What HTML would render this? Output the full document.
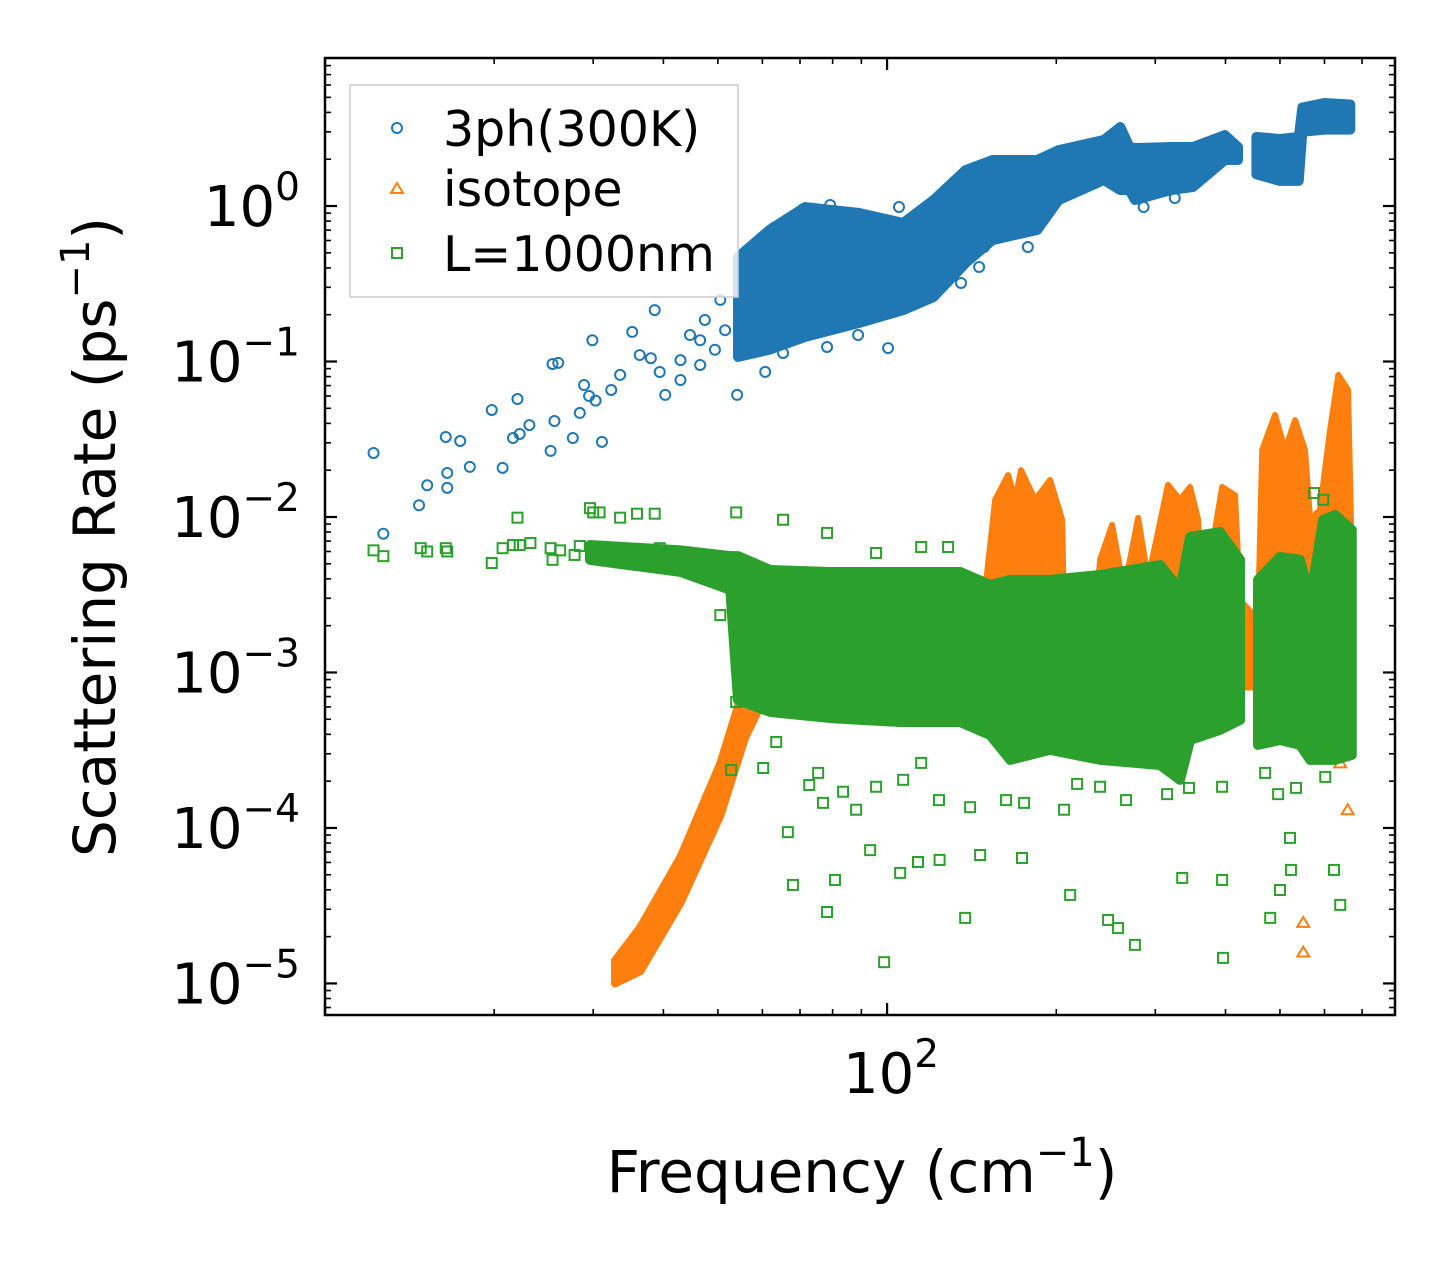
<!DOCTYPE html>
<html><head><meta charset="utf-8"><style>
html,body{margin:0;padding:0;background:#fff;}
svg{display:block;font-family:"DejaVu Sans","Liberation Sans",sans-serif;}
</style></head><body>
<svg id="chart" xmlns="http://www.w3.org/2000/svg" width="1455" height="1265" viewBox="0 0 1455 1265">
<rect x="0" y="0" width="1455" height="1265" fill="#fff"/>
<g id="plot"></g>
<g id="axes"></g>
<g id="legend">
 <rect x="350" y="85" width="388" height="212" fill="#fff" fill-opacity="0.8" stroke="#ccc" stroke-width="1.5"/>
 <circle cx="397" cy="128" r="5" fill="none" stroke="#1f77b4" stroke-width="2"/>
 <text x="443" y="146" font-size="49" fill="#000">3ph(300K)</text>
 <path d="M397,183 L403,193 L391,193 Z" fill="none" stroke="#ff7f0e" stroke-width="2"/>
 <text x="443" y="206" font-size="49" fill="#000">isotope</text>
 <rect x="392" y="248" width="10" height="10" fill="none" stroke="#2ca02c" stroke-width="2"/>
 <text x="443" y="271" font-size="49" fill="#000">L=1000nm</text>
</g>
</svg>
<script>
// ---- data ----
const blueFreq = [12.2,12.7,14.7,15.2,16.4,16.5,16.5,17.4,18.1,19.8,20.7,22.0,21.6,22.2,23.1,25.2,25.4,26.0,25.6,27.6,28.4,28.9,29.5,29.9,30.3,31.1,32.3,35.2,33.5,36.3,38.0,38.6,40.3,42.9,46.5,54.1,50.5,60.7,65.3,78.2,100.4,88.8,148.8,145.8,135.4,178,286,325,128.4,79.2,70.9,105,62.9,44.6,47.4,49.4,51.5,46.5,55.9,42.9,39.4];
const blueRate = [0.0258,0.0078,0.0119,0.016,0.0327,0.0192,0.0154,0.0308,0.021,0.0488,0.0207,0.0574,0.0322,0.0342,0.039,0.0266,0.0964,0.098,0.0414,0.0322,0.0467,0.0706,0.06,0.137,0.056,0.0304,0.0656,0.155,0.082,0.110,0.105,0.214,0.061,0.076,0.137,0.061,0.249,0.0857,0.1135,0.124,0.122,0.148,0.545,0.405,0.32,0.545,0.985,1.126,1.212,1.015,0.955,0.985,0.722,0.148,0.185,0.119,0.159,0.095,0.214,0.102,0.0856];
const blueBandFreq = [54.3,61.7,71.5,89.2,106.8,121,138,154,185,202,243,260,270,276,320,350,399,421,null,454,500,540,548,600,667];
const blueBandHi = [0.47,0.70,0.985,0.902,0.778,1.093,1.704,1.976,1.976,2.29,2.657,3.22,2.395,2.36,2.395,2.395,2.86,2.395,null,2.78,2.7,2.78,4.3,4.6,4.5];
const blueBandLo = [0.107,0.119,0.144,0.177,0.214,0.26,0.43,0.604,0.701,1.093,1.47,1.267,1.267,1.093,1.267,1.325,1.976,1.976,null,1.6,1.45,1.45,3.0,3.1,3.1];

const isoRiseFreq = [32.8,36.4,42.9,50.5,55.9,59.4];
const isoRiseHi = [1.4e-5,2.3e-5,6.5e-5,2.6e-4,8.5e-4,1.4e-3];
const isoRiseLo = [1.0e-5,1.2e-5,3.3e-5,1.2e-4,3.8e-4,6e-4];
const isoRidgeFreq = [59.4,134.9,148.8,155.7,164.2,169,173.1,183.4,195,204.9,206.5,234.5,239.3,251.4,260,266.2,279.7,291.4,296.2,316,332,346,357.6,360.6,375.6,394.5,416,424.6,457,464.9,490,510.5,532,554,565.8,589,614,635,661,671];
const isoRidgeRate = [9.0e-4,1.40e-3,2.92e-3,0.0129,0.0186,0.0129,0.020,0.0129,0.0173,9.6e-3,2.18e-3,2.18e-3,5.3e-3,8.9e-3,4.56e-3,3.94e-3,9.86e-3,3.94e-3,5.3e-3,0.0161,0.0129,0.0156,9.6e-3,5.3e-3,5.3e-3,0.0156,0.0138,2.92e-3,2.18e-3,0.027,0.0453,0.027,0.042,0.027,9.6e-3,0.0111,0.0363,0.0819,0.0656,5.3e-3];
const isoFloor = 8.0e-4;
const isoFreq = [550,550,640,600,660];
const isoRate = [2.45e-5,1.58e-5,2.6e-4,3.5e-4,1.3e-4];

const bndFreq = [12.2,12.7,14.8,15.2,16.4,16.5,19.8,20.7,21.6,22.0,22.2,23.2,25.2,25.4,26.2,27.8,28.4,29.6,30.0,30.8,32.2,33.5,35.9,36.3,38.6,39.4,50.5,54.7,53.9,52.8,60.2,63.5,72.7,76.9,88.1,83.5,75.4,95.6,106.8,115,123.7,140.5,162.8,175.3,206.5,217.8,239.3,266.2,314.9,344.4,394.5,470.6,496.3,534,602,558.8,53.9,65.3,78.2,95.6,115,128.4,281.8,575,597,66.6,68.0,78.2,80.8,98.8,105.5,113.5,137.7,173.8,211.7,247.3,257.6,276,335,394.5,396,480.4,500,523,521,624,640,146.4,124,93.3];
const bndRate = [6.1e-3,5.6e-3,6.3e-3,6.0e-3,6.3e-3,6.0e-3,5.06e-3,6.3e-3,6.6e-3,9.9e-3,6.6e-3,6.8e-3,6.3e-3,5.3e-3,6.1e-3,5.7e-3,6.5e-3,0.0114,0.0107,0.0107,6.1e-3,9.9e-3,0.0105,6.1e-3,0.0105,6.3e-3,2.34e-3,7.7e-4,6.46e-4,2.36e-4,2.43e-4,3.57e-4,1.89e-4,1.45e-4,1.31e-4,1.71e-4,2.26e-4,1.84e-4,2.04e-4,2.62e-4,1.51e-4,1.36e-4,1.51e-4,1.45e-4,1.31e-4,1.92e-4,1.84e-4,1.51e-4,1.65e-4,1.81e-4,1.84e-4,2.26e-4,1.65e-4,1.81e-4,2.13e-4,3.52e-4,0.0107,9.6e-3,7.9e-3,5.87e-3,6.41e-3,6.41e-3,4.11e-3,0.01426,0.0129,9.4e-5,4.3e-5,2.88e-5,4.63e-5,1.37e-5,5.14e-5,6.04e-5,2.64e-5,6.41e-5,3.71e-5,2.56e-5,2.27e-5,1.77e-5,4.77e-5,4.63e-5,1.46e-5,2.64e-5,3.99e-5,5.37e-5,8.63e-5,5.37e-5,3.2e-5,6.7e-5,6.23e-5,7.2e-5];
const bndBandFreq = [29.6,42.9,52.6,54.3,62.0,79.2,105.5,134.9,152.5,165.6,195,239.3,306,332,346,391,424.6,null,457,500,543,565.8,597,627,671];
const bndBandHi = [6.6e-3,6.1e-3,5.6e-3,5.6e-3,4.56e-3,4.43e-3,4.43e-3,4.43e-3,3.66e-3,3.94e-3,3.94e-3,4.24e-3,4.91e-3,3.4e-3,7.44e-3,8.0e-3,5.3e-3,null,3.94e-3,5.53e-3,5.3e-3,2.92e-3,9.6e-3,0.0103,8.25e-3];
const bndBandLo = [5.3e-3,4.43e-3,3.4e-3,6.65e-4,5.57e-4,5.09e-4,4.8e-4,4.8e-4,3.96e-4,2.74e-4,3.18e-4,2.74e-4,2.54e-4,2.04e-4,3.68e-4,4.27e-4,4.95e-4,null,3.42e-4,3.68e-4,3.42e-4,2.74e-4,2.74e-4,2.74e-4,2.95e-4];

const yTickExps = [0,-1,-2,-3,-4,-5];
const xMajorTicks = [10,100];
const xLabelTicks = [100];

// ---- axes ----
const L=325,R=1395,T=58,B=1015;
const xMin=10, xMax=801, yMin=Math.pow(10,-5.203), yMax=Math.pow(10,0.952);
const sx=v=>L+(Math.log10(v)-Math.log10(xMin))/(Math.log10(xMax)-Math.log10(xMin))*(R-L);
const sy=v=>B-(Math.log10(v)-Math.log10(yMin))/(Math.log10(yMax)-Math.log10(yMin))*(B-T);
const NS="http://www.w3.org/2000/svg";
const plot=document.getElementById('plot'), axes=document.getElementById('axes');
function mk(tag,attrs,parent){const e=document.createElementNS(NS,tag);for(const k in attrs)e.setAttribute(k,attrs[k]);parent.appendChild(e);return e;}

const clip=mk('clipPath',{id:'clp'},plot);
mk('rect',{x:L,y:T,width:R-L,height:B-T},clip);
const g=mk('g',{'clip-path':'url(#clp)'},plot);

function band(fr,hi,lo,color,name,sw){
  let seg=[];const segs=[];
  for(let i=0;i<fr.length;i++){if(fr[i]===null){segs.push(seg);seg=[];}else seg.push(i);}
  segs.push(seg);
  segs.forEach(s=>{
    const top=s.map(i=>sx(fr[i])+','+sy(hi[i]));
    const bot=s.slice().reverse().map(i=>sx(fr[i])+','+sy(lo[i]));
    const p=mk('polygon',{points:top.concat(bot).join(' '),fill:color,stroke:color,'stroke-width':sw,'stroke-linejoin':'round'},g);
    
    
  });
}
function ridge(fr,rt,floor,color,name){
  const pts=fr.map((f,i)=>sx(f)+','+sy(rt[i]));
  pts.push(sx(fr[fr.length-1])+','+sy(floor));pts.push(sx(fr[0])+','+sy(floor));
  const p=mk('polygon',{points:pts.join(' '),fill:color,stroke:color,'stroke-width':6,'stroke-linejoin':'round'},g);
  
  
}

// blue
band(blueBandFreq,blueBandHi,blueBandLo,'#1f77b4','3ph-dense-band',10);
blueFreq.forEach((f,i)=>{
  const c=mk('circle',{cx:sx(f),cy:sy(blueRate[i]),r:5,fill:'none',stroke:'#1f77b4','stroke-width':2},g);
  
  
});
// orange
band(isoRiseFreq,isoRiseHi,isoRiseLo,'#ff7f0e','isotope-rising-band',8);
ridge(isoRidgeFreq,isoRidgeRate,isoFloor,'#ff7f0e','isotope-spikes');
isoFreq.forEach((f,i)=>{
  const x=sx(f),y=sy(isoRate[i]);
  const t=mk('path',{d:`M${x},${y-6} L${x+6},${y+4} L${x-6},${y+4} Z`,fill:'none',stroke:'#ff7f0e','stroke-width':2},g);
  
  
});
// green
band(bndBandFreq,bndBandHi,bndBandLo,'#2ca02c','boundary-dense-band',10);
bndFreq.forEach((f,i)=>{
  const s=mk('rect',{x:sx(f)-5,y:sy(bndRate[i])-5,width:10,height:10,fill:'none',stroke:'#2ca02c','stroke-width':2},g);
  
  
});

// frame
const fr=mk('rect',{x:L,y:T,width:R-L,height:B-T,fill:'none',stroke:'#000','stroke-width':2.5},axes);



// y ticks
for(let e=-6;e<=1;e++){
  for(let m=1;m<10;m++){
    const v=m*Math.pow(10,e);
    if(v<yMin||v>yMax)continue;
    const y=sy(v),len=m===1?12:6,w=m===1?2.2:1.6;
    mk('line',{x1:L,y1:y,x2:L+len,y2:y,stroke:'#000','stroke-width':w},axes);
    mk('line',{x1:R,y1:y,x2:R-len,y2:y,stroke:'#000','stroke-width':w},axes);
  }
}
yTickExps.forEach(e=>{
  const t=mk('text',{x:300,y:sy(Math.pow(10,e))+20,'font-size':56,'text-anchor':'end',fill:'#000'},axes);
  
  
  t.innerHTML='10<tspan dy="-26" font-size="39">'+(e<0?'\u2212'+(-e):e)+'</tspan>';
});
// x ticks
for(let e=1;e<=2;e++){
  for(let m=1;m<10;m++){
    const v=m*Math.pow(10,e);
    if(v<xMin-0.01||v>xMax)continue;
    const x=sx(v),len=xMajorTicks.includes(v)?12:6,w=len===12?2.2:1.6;
    mk('line',{x1:x,y1:B,x2:x,y2:B-len,stroke:'#000','stroke-width':w},axes);
    mk('line',{x1:x,y1:T,x2:x,y2:T+len,stroke:'#000','stroke-width':w},axes);
  }
}
xLabelTicks.forEach(v=>{
  const t=mk('text',{x:sx(v)+4,y:1093,'font-size':56,'text-anchor':'middle',fill:'#000'},axes);
  
  
  t.innerHTML='10<tspan dy="-26" font-size="39">2</tspan>';
});
const xt=mk('text',{x:862,y:1192,'font-size':58,'text-anchor':'middle',fill:'#000'},axes);


xt.innerHTML='Frequency (cm<tspan dy="-26" font-size="40">\u22121</tspan><tspan dy="26">)</tspan>';
const yt=mk('text',{x:0,y:0,'font-size':58,'text-anchor':'middle',fill:'#000',transform:'translate(115,537) rotate(-90)'},axes);


yt.innerHTML='Scattering Rate (ps<tspan dy="-26" font-size="40">\u22121</tspan><tspan dy="26">)</tspan>';
</script>
</body></html>
